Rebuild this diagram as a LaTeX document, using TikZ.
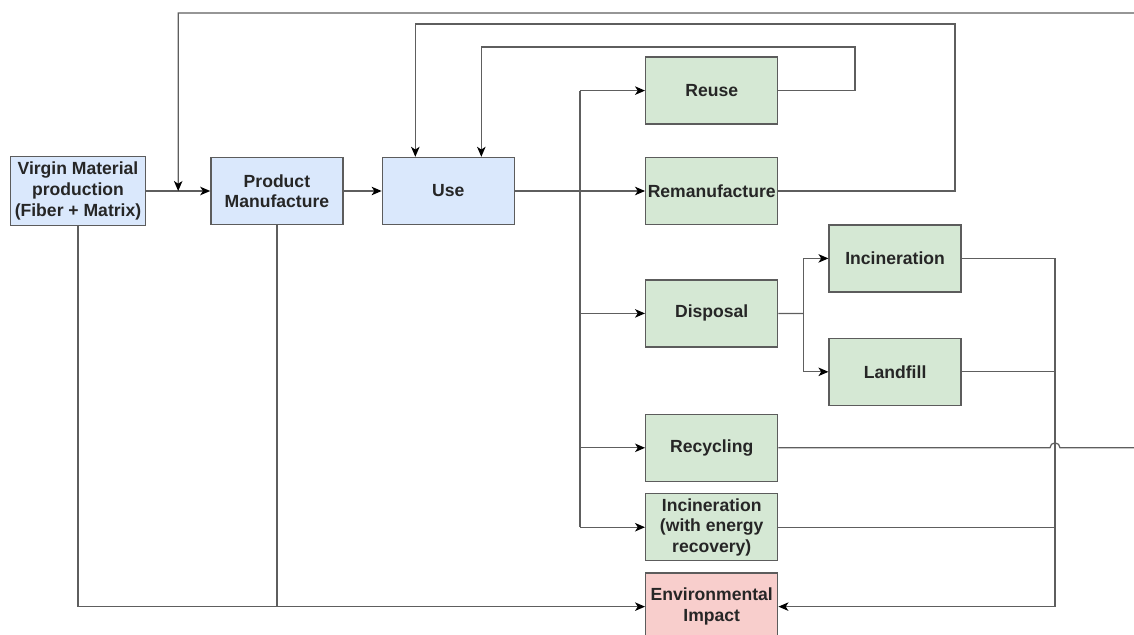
\documentclass[tikz,border=0pt]{standalone}
\usepackage{fontspec}
\setmainfont{Liberation Sans}
\usetikzlibrary{arrows.meta,positioning,calc}
\definecolor{StageBlue}{HTML}{DAE8FC}
\definecolor{RouteGreen}{HTML}{D5E8D4}
\definecolor{ImpactRed}{HTML}{F8CECC}
\definecolor{EdgeGray}{HTML}{5C5C5C}
\definecolor{WireGray}{HTML}{5E5E5E}
\tikzset{
  stagenode/.style={draw=EdgeGray,fill=StageBlue,line width=0.8pt,minimum height=13.4mm,minimum width=26.4mm,inner sep=0.3mm,align=center,text=black!85,font=\fontsize{10}{11.7}\selectfont\bfseries},
  routenode/.style={stagenode,fill=RouteGreen},
  impactnode/.style={stagenode,fill=ImpactRed},
  wire/.style={line width=0.7pt,draw=WireGray},
  wirearrow/.style={wire,-{Stealth[length=2mm,width=1.7mm,inset=0.55mm,color=black]}}
}

\begin{document}
\begin{tikzpicture}[x=0.2mm,y=-0.2mm]
\useasboundingbox (0,0) rectangle (1134,634);
\node[stagenode,minimum width=27mm,minimum height=13.8mm] (virgin) at (78,191) {Virgin Material\\production\\(Fiber + Matrix)};
\node[stagenode,right=12.8mm of virgin] (manuf) {Product\\Manufacture};
\node[stagenode,right=7.6mm of manuf] (use) {Use};
\node[routenode,right=26mm of use] (reman) {Remanufacture};
\node[routenode,above=6.4mm of reman] (reuse) {Reuse};
\node[routenode,below=10.8mm of reman] (disp) {Disposal};
\node[routenode,below=13.2mm of disp] (recyc) {Recycling};
\node[routenode,below=2.2mm of recyc] (incen) {Incineration\\(with energy\\recovery)};
\node[impactnode,below=2.2mm of incen] (impact) {Environmental\\Impact};
\node[routenode,right=10mm of disp,yshift=11mm] (incin) {Incineration};
\node[routenode,below=9mm of incin] (landf) {Landfill};
% branch points
\coordinate (merge) at ($(virgin.east)!0.5!(manuf.west)$);
\coordinate (split) at ($(use.east)!0.5!(reman.west)$);
\coordinate (fork) at ($(disp.east)!0.5!(incin.west |- disp.east)$);
\coordinate (collect) at (1055,0);
\coordinate (topwire) at (1150,13);
% main flow
\draw[wirearrow] (virgin) -- (manuf);
\draw[wirearrow] (manuf) -- (use);
\draw[wirearrow] (use) -- (reman);
\draw[wire] (split |- reuse.west) -- (split |- incen.west);
\foreach \dst in {reuse,disp,recyc,incen}
  \draw[wirearrow] (split |- \dst.west) -- (\dst.west);
\draw[wire] (disp.east) -- (fork);
\draw[wire] (fork |- incin.west) -- (fork |- landf.west);
\foreach \dst in {incin,landf}
  \draw[wirearrow] (fork |- \dst.west) -- (\dst.west);
% loops back
\draw[wirearrow] (reuse.east) -| (855,47) -| ([xshift=6.6mm]use.north);
\draw[wirearrow] (reman.east) -| (955,24) -| ([xshift=-6.6mm]use.north);
\draw[wirearrow] (recyc.east) -- ($(collect |- recyc.east)+(-5,0)$) arc[start angle=180,end angle=0,radius=1mm]
  -- (topwire |- recyc.east) -- (topwire) -| (merge);
% impact
\draw[wirearrow] (incin.east) -| (collect |- impact.east) -- (impact.east);
\foreach \src in {landf,incen}
  \draw[wire] (\src.east) -- (collect |- \src.east);
\draw[wirearrow] (virgin.south) |- (impact.west);
\draw[wire] (manuf.south) -- (manuf.south |- impact.west);
\end{tikzpicture}
\end{document}
